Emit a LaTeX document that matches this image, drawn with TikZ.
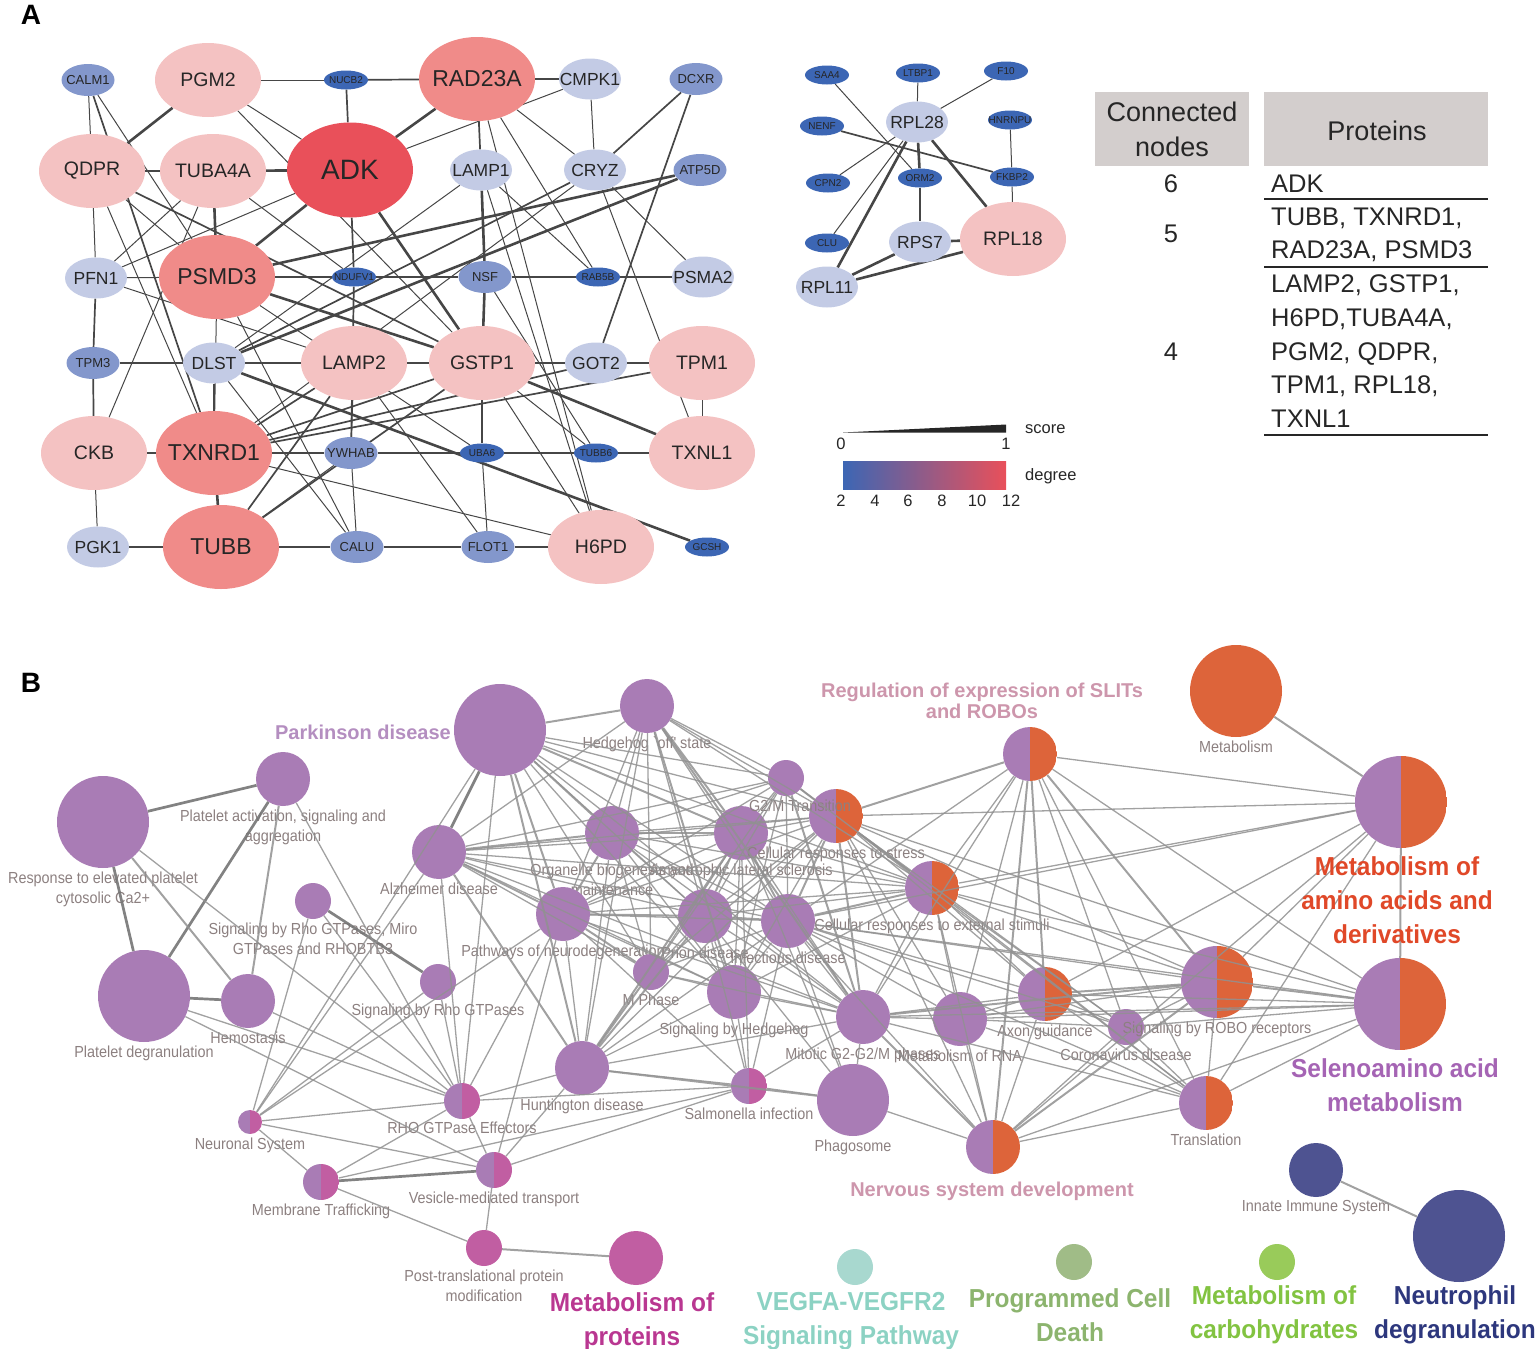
\documentclass[tikz,border=0pt]{standalone}
\usepackage{fontspec}
\setmainfont{Liberation Sans}
\newfontfamily\condfont[FakeStretch=0.9]{Liberation Sans}
\newfontfamily\capfont[FakeStretch=0.94]{Liberation Sans}
\usetikzlibrary{shapes.geometric, backgrounds}

% degree colours (panel A)
\definecolor{degtwo}{RGB}{60,102,180}
\definecolor{degthree}{RGB}{131,151,204}
\definecolor{degfour}{RGB}{195,203,229}
\definecolor{degsix}{RGB}{244,194,194}
\definecolor{degnine}{RGB}{240,139,137}
\definecolor{degtwelve}{RGB}{233,80,90}
\definecolor{degmid}{RGB}{180,92,152}
\definecolor{linkgray}{RGB}{70,70,70}
\definecolor{hdrgray}{RGB}{211,206,205}
% pathway colours (panel B)
\definecolor{purp}{RGB}{169,124,181}
\definecolor{orng}{RGB}{221,100,58}
\definecolor{mgnt}{RGB}{193,94,162}
\definecolor{teal}{RGB}{168,216,207}
\definecolor{sage}{RGB}{160,188,135}
\definecolor{lime}{RGB}{153,203,90}
\definecolor{navy}{RGB}{78,83,145}
\definecolor{edgegray}{RGB}{145,145,145}
\definecolor{labgray}{RGB}{140,128,128}
\definecolor{txtpark}{RGB}{180,142,192}
\definecolor{txtslit}{RGB}{205,150,172}
\definecolor{txtamino}{RGB}{224,72,40}
\definecolor{txtseleno}{RGB}{165,100,180}
\definecolor{txtprot}{RGB}{185,55,145}
\definecolor{txtvegf}{RGB}{140,210,195}
\definecolor{txtpcd}{RGB}{140,180,110}
\definecolor{txtcarb}{RGB}{130,195,65}
\definecolor{txtneut}{RGB}{45,55,125}

\newcommand{\prot}[4]{\node[#1] (#2) at (#3) {\makebox[0pt]{#4}};}

\tikzset{
  prot/.style={ellipse, inner sep=0pt, draw=none, text=black!85},
  protxs/.style={prot, fill=degtwo, minimum width=44pt, minimum height=19pt, font=\fontsize{10}{10}\selectfont},
  protsm/.style={prot, fill=degthree, minimum width=53pt, minimum height=32pt, font=\fontsize{13}{13}\selectfont},
  protmd/.style={prot, fill=degfour, minimum width=62pt, minimum height=41pt, font=\fontsize{17.5}{17.5}\selectfont},
  protlg/.style={prot, fill=degsix, minimum width=106pt, minimum height=74pt, font=\fontsize{19.5}{19.5}\selectfont},
  protxl/.style={prot, fill=degnine, minimum width=116pt, minimum height=84pt, font=\fontsize{23}{23}\selectfont},
  prothub/.style={prot, fill=degtwelve, minimum width=126pt, minimum height=95pt, font=\fontsize{28}{28}\selectfont},
  ethin/.style={draw=linkgray, line width=1pt},
  emid/.style={draw=linkgray, line width=1.7pt},
  ethick/.style={draw=linkgray, line width=2.6pt},
  lgtxt/.style={font=\fontsize{16.5}{16.5}\selectfont, inner sep=0pt, text=black!85},
  tabtxt/.style={font=\fontsize{25.5}{25.5}\selectfont, inner sep=0pt, text=black!85},
  pathway/.style={circle, inner sep=0pt, draw=none},
  bisect/.style 2 args={pathway, path picture={
      \fill[#1] (path picture bounding box.south west) rectangle (path picture bounding box.north);
      \fill[#2] (path picture bounding box.south) rectangle (path picture bounding box.north east);}},
  rA/.style={minimum size=92pt},
  rB/.style={minimum size=72pt},
  rC/.style={minimum size=54pt},
  rD/.style={minimum size=36pt},
  rE/.style={minimum size=24pt},
  blab/.style={font=\condfont\fontsize{16}{20}\selectfont, text=labgray, align=center, inner sep=1pt},
  rel/.style={draw=edgegray, line width=1.3pt, draw opacity=0.85},
  relm/.style={draw=edgegray, line width=2pt, draw opacity=0.85},
  relk/.style={draw=edgegray!80!black, line width=2.7pt, draw opacity=0.9},
  pinkcap/.style={font=\bfseries\fontsize{20}{21}\selectfont, align=center, inner sep=0pt},
  bigcap/.style={font=\capfont\bfseries\fontsize{26}{34}\selectfont, align=center, inner sep=0pt},
}

\begin{document}
\begin{tikzpicture}[x=1pt, y=-1pt, label distance=2pt]
\useasboundingbox (0,0) rectangle (1535,1349);

%%% Panel letters
\node[font=\bfseries\fontsize{28}{28}\selectfont] (letA) at (31,15) {A};
\node[font=\bfseries\fontsize{28}{28}\selectfont] (letB) at (31,683) {B};

%%% Panel A: main PPI network
\prot{protsm}{CALM1}{88,80}{CALM1}
\prot{protlg}{PGM2}{208,80}{PGM2}
\prot{protxs}{NUCB2}{346,80}{NUCB2}
\prot{protxl}{RAD23A}{477,79}{RAD23A}
\prot{protmd}{CMPK1}{590,79}{CMPK1}
\prot{protsm}{DCXR}{696,79}{DCXR}
\prot{protlg}{QDPR}{92,171}{QDPR}
\prot{protlg}{TUBA4A}{213,171}{TUBA4A}
\prot{prothub}{ADK}{350,170}{ADK}
\prot{protmd}{LAMP1}{481,170}{LAMP1}
\prot{protmd}{CRYZ}{595,170}{CRYZ}
\prot{protsm}{ATP5D}{700,170}{ATP5D}
\prot{protmd}{PFN1}{96,278}{PFN1}
\prot{protxl}{PSMD3}{217,277}{PSMD3}
\prot{protxs}{NDUFV1}{354,277}{NDUFV1}
\prot{protsm}{NSF}{485,277}{NSF}
\prot{protxs}{RAB5B}{598,277}{RAB5B}
\prot{protmd}{PSMA2}{703,277}{PSMA2}
\prot{protsm}{TPM3}{93,363}{TPM3}
\prot{protmd}{DLST}{214,363}{DLST}
\prot{protlg}{LAMP2}{354,363}{LAMP2}
\prot{protlg}{GSTP1}{482,363}{GSTP1}
\prot{protmd}{GOT2}{596,363}{GOT2}
\prot{protlg}{TPM1}{702,363}{TPM1}
\prot{protlg}{CKB}{94,453}{CKB}
\prot{protxl}{TXNRD1}{214,453}{TXNRD1}
\prot{protsm}{YWHAB}{351,453}{YWHAB}
\prot{protxs}{UBA6}{482,453}{UBA6}
\prot{protxs}{TUBB6}{596,453}{TUBB6}
\prot{protlg}{TXNL1}{702,453}{TXNL1}
\prot{protmd}{PGK1}{98,547}{PGK1}
\prot{protxl}{TUBB}{221,547}{TUBB}
\prot{protsm}{CALU}{357,547}{CALU}
\prot{protsm}{FLOT1}{488,547}{FLOT1}
\prot{protlg}{H6PD}{601,547}{H6PD}
\prot{protxs}{GCSH}{707,547}{GCSH}

%%% Panel A: small network
\prot{protxs}{SAA4}{827,75}{SAA4}
\prot{protxs}{LTBP1}{918,73}{LTBP1}
\prot{protxs}{F10}{1006,71}{F10}
\prot{protxs}{NENF}{822,126}{NENF}
\prot{protxs}{HNRNPU}{1010,120}{HNRNPU}
\prot{protxs}{CPN2}{828,183}{CPN2}
\prot{protxs}{ORM2}{920,178}{ORM2}
\prot{protxs}{FKBP2}{1012,177}{FKBP2}
\prot{protxs}{CLU}{827,243}{CLU}
\prot{protmd}{RPL28}{917,122}{RPL28}
\prot{protmd}{RPS7}{920,242}{RPS7}
\prot{protlg}{RPL18}{1013,239}{RPL18}
\prot{protmd}{RPL11}{827,287}{RPL11}

\begin{scope}[on background layer]
\foreach \a/\b in {QDPR/PGM2, QDPR/TUBA4A, TUBA4A/ADK, ADK/RAD23A, ADK/PSMD3, TUBA4A/PSMD3,
    PSMD3/NDUFV1, NDUFV1/NSF, NSF/RAB5B, RAB5B/PSMA2, TPM3/DLST, DLST/LAMP2, LAMP2/GSTP1,
    GSTP1/GOT2, GOT2/TPM1, CKB/TXNRD1, TXNRD1/TUBB, DLST/TXNRD1, ADK/GSTP1, ATP5D/DLST,
    ATP5D/PSMD3, PSMD3/GSTP1, GSTP1/TXNL1, DLST/GCSH, LAMP1/NSF, NSF/GSTP1, GSTP1/UBA6,
    RPL28/ORM2, ORM2/RPS7, RPL28/RPL18, RPL28/RPL11, RPS7/RPL18, RPS7/RPL11, RPL11/RPL18}
  \draw[ethick] (\a) -- (\b);
\foreach \a/\b in {NUCB2/RAD23A, NUCB2/ADK, RAD23A/CMPK1, RAD23A/LAMP1, DCXR/CRYZ, DCXR/GOT2,
    QDPR/GSTP1, PFN1/TPM3, TPM3/CKB, NDUFV1/YWHAB, TXNRD1/YWHAB, YWHAB/UBA6, UBA6/TUBB6,
    TUBB6/TXNL1, PGK1/TUBB, TUBB/CALU, CALU/FLOT1, FLOT1/H6PD, TXNRD1/GOT2, TXNRD1/TPM1,
    TXNRD1/GSTP1, TUBB/LAMP2, ADK/NDUFV1, CRYZ/DLST, LAMP2/TXNRD1, CALM1/TXNRD1, TUBB/GSTP1,
    NENF/FKBP2}
  \draw[emid] (\a) -- (\b);
\foreach \a/\b in {CALM1/QDPR, CALM1/PSMD3, PGM2/NUCB2, PGM2/ADK, PGM2/GSTP1, RAD23A/CRYZ,
    RAD23A/RAB5B, RAD23A/H6PD, CMPK1/CRYZ, CMPK1/ADK, QDPR/PFN1, QDPR/TXNRD1, QDPR/PSMD3,
    TUBA4A/PFN1, TUBA4A/NDUFV1, TUBA4A/CKB, ADK/PFN1, LAMP1/DLST, LAMP1/RAB5B, LAMP1/H6PD,
    CRYZ/TXNRD1, CRYZ/PSMA2, CRYZ/TXNL1, PFN1/PSMD3, PFN1/LAMP2, PSMD3/CALU, PSMD3/UBA6,
    PSMD3/TXNRD1, LAMP2/YWHAB, LAMP2/FLOT1, GSTP1/TUBB6, GSTP1/H6PD, GSTP1/TPM1, TPM1/TXNL1,
    CKB/PGK1, UBA6/FLOT1, YWHAB/CALU, YWHAB/TUBB, TXNRD1/H6PD, DLST/CALU, NSF/TUBB6,
    SAA4/ORM2, LTBP1/RPL28, F10/RPL28, HNRNPU/FKBP2, CPN2/RPL28, CLU/RPL28, FKBP2/RPL18}
  \draw[ethin] (\a) -- (\b);
\end{scope}

%%% Panel A: legend
\fill[black!85] (843,432.5) -- (1006,424.5) -- (1006,432.5) -- cycle;
\node[lgtxt, anchor=west] (scorelbl) at (1025,429) {score};
\node[lgtxt] (scorelo) at (841,444) {0};
\node[lgtxt] (scorehi) at (1006,444) {1};
\shade[left color=degtwo, middle color=degmid, right color=degtwelve] (843,461) rectangle (1006,489);
\node[lgtxt, anchor=west] (deglbl) at (1025,476) {degree};
\foreach \v/\x in {2/841, 4/875, 6/908, 8/942, 10/977, 12/1011}
  \node[lgtxt] at (\x,501) {\v};

%%% Panel A: table
\fill[hdrgray] (1095,92) rectangle (1249,166);
\fill[hdrgray] (1264,92) rectangle (1488,166);
\node[font=\fontsize{27}{35}\selectfont, align=center, inner sep=0pt, text=black!85] (hconn) at (1172,129) {Connected\\nodes};
\node[font=\fontsize{27}{27}\selectfont, inner sep=0pt, text=black!85] (hprot) at (1377,131) {Proteins};
\node[tabtxt, anchor=base] at (1171,192) {6};
\node[tabtxt, anchor=base] at (1171,242) {5};
\node[tabtxt, anchor=base] at (1171,360) {4};
\foreach \t/\y in {ADK/192, {TUBB, TXNRD1,}/225, {RAD23A, PSMD3}/258, {LAMP2, GSTP1,}/292,
    {H6PD,TUBA4A,}/326, {PGM2, QDPR,}/360, {TPM1, RPL18,}/393, TXNL1/427}
  \node[tabtxt, anchor=base west] at (1271,\y) {\t};
\foreach \y in {199, 267, 435}
  \draw[line width=1.6pt, black!85] (1264,\y) -- (1488,\y);

%%% Panel B: pathways
\node[pathway, rA, fill=purp, label={[blab]below:{Response to elevated platelet\\cytosolic Ca2+}}] (resp) at (103,822) {};
\node[pathway, rC, fill=purp, label={[blab]below:{Platelet activation, signaling and\\aggregation}}] (plact) at (283,779) {};
\node[pathway, rD, fill=purp, label={[blab]below:{Signaling by Rho GTPases, Miro\\GTPases and RHOBTB3}}] (rhomiro) at (313,901) {};
\node[pathway, rA, fill=purp, label={[blab]below:Platelet degranulation}] (pdegr) at (144,996) {};
\node[pathway, rC, fill=purp, label={[blab]below:Hemostasis}] (hemo) at (248,1001) {};
\node[pathway, rD, fill=purp, label={[blab]below:Signaling by Rho GTPases}] (rhogtp) at (438,982) {};
\node[pathway, rC, fill=purp, label={[blab]below:Alzheimer disease}] (alz) at (439,852) {};
\node[pathway, rA, fill=purp] (park) at (500,730) {};
\node[pathway, rC, fill=purp, label={[blab]below:Hedgehog `off' state}] (hedge) at (647,706) {};
\node[pathway, rC, fill=purp, label={[blab]below:{Organelle biogenesis and\\maintenance}}] (organ) at (612,833) {};
\node[pathway, rC, fill=purp, label={[blab]below:Amyotrophic lateral sclerosis}] (als) at (741,833) {};
\node[bisect={purp}{orng}, rC, label={[blab]below:Cellular responses to stress}] (cstress) at (836,816) {};
\node[bisect={purp}{orng}, rC, label={[blab]below:Cellular responses to external stimuli}] (cext) at (932,888) {};
\node[bisect={purp}{orng}, rC] (slit) at (1030,754) {};
\node[pathway, rA, fill=orng, label={[blab]below:Metabolism}] (metab) at (1236,691) {};
\node[bisect={purp}{orng}, rA] (aminoacid) at (1401,802) {};
\node[pathway, rC, fill=purp, label={[blab]below:Pathways of neurodegeneration}] (neuro) at (563,914) {};
\node[pathway, rC, fill=purp, label={[blab]below:Prion disease}] (prion) at (705,916) {};
\node[pathway, rC, fill=purp, label={[blab]below:Infectious disease}] (infect) at (788,921) {};
\node[pathway, rD, fill=purp, label={[blab]below:M Phase}] (mphase) at (651,972) {};
\node[pathway, rC, fill=purp, label={[blab]below:Signaling by Hedgehog}] (shedge) at (734,992) {};
\node[pathway, rC, fill=purp, label={[blab]below:Mitotic G2-G2/M phases}] (mitotic) at (863,1017) {};
\node[pathway, rC, fill=purp, label={[blab]below:Metabolism of RNA}] (rna) at (960,1019) {};
\node[bisect={purp}{orng}, rC, label={[blab]below:Axon guidance}] (axon) at (1045,994) {};
\node[pathway, rD, fill=purp, label={[blab]below:Coronavirus disease}] (corona) at (1126,1027) {};
\node[bisect={purp}{orng}, rB, label={[blab]below:Signaling by ROBO receptors}] (robo) at (1217,982) {};
\node[bisect={purp}{orng}, rA] (seleno) at (1400,1004) {};
\node[bisect={purp}{orng}, rC, label={[blab]below:Translation}] (transl) at (1206,1103) {};
\node[bisect={purp}{orng}, rC] (nervous) at (993,1147) {};
\node[pathway, rB, fill=purp, label={[blab]below:Phagosome}] (phago) at (853,1100) {};
\node[pathway, rC, fill=purp, label={[blab]below:Huntington disease}] (hunt) at (582,1068) {};
\node[bisect={purp}{mgnt}, rD, label={[blab]below:Salmonella infection}] (salm) at (749,1086) {};
\node[bisect={purp}{mgnt}, rD, label={[blab]below:RHO GTPase Effectors}] (rhoeff) at (462,1101) {};
\node[bisect={purp}{mgnt}, rE, label={[blab]below:Neuronal System}] (neuronal) at (250,1122) {};
\node[bisect={purp}{mgnt}, rD, label={[blab]below:Membrane Trafficking}] (membr) at (321,1182) {};
\node[bisect={purp}{mgnt}, rD, label={[blab]below:Vesicle-mediated transport}] (vesic) at (494,1170) {};
\node[pathway, rD, fill=mgnt, label={[blab]below:{Post-translational protein\\modification}}] (ptm) at (484,1248) {};
\node[pathway, rC, fill=mgnt] (protmet) at (636,1258) {};
\node[pathway, rD, fill=teal] (vegfa) at (855,1267) {};
\node[pathway, rD, fill=sage] (pcd) at (1074,1262) {};
\node[pathway, rD, fill=lime] (carb) at (1277,1262) {};
\node[pathway, rC, fill=navy, label={[blab]below:Innate Immune System}] (innate) at (1316,1170) {};
\node[pathway, rA, fill=navy] (neutro) at (1459,1236) {};
% set last, so that its label lies over the stress node
\node[pathway, rD, fill=purp, label={[blab, xshift=14pt]below:G2/M Transition}] (gtwom) at (786,778) {};

%%% Panel B: links
\foreach \a/\b in {resp/plact, resp/pdegr, plact/pdegr, pdegr/hemo, rhomiro/rhogtp, membr/vesic, alz/park}
  \draw[relk] (\a) -- (\b);
\foreach \a/\b in {resp/hemo, plact/hemo, park/hedge, park/organ, park/als, park/neuro, park/hunt,
    hedge/als, hedge/shedge, hedge/mitotic, gtwom/cstress, gtwom/mitotic, alz/organ, alz/neuro,
    alz/hunt, organ/als, organ/neuro, neuro/prion, neuro/mphase, als/infect, als/prion, als/hunt,
    prion/infect, prion/hunt, mphase/hunt, infect/cext, infect/cstress, cstress/cext, cstress/mitotic,
    cstress/slit, mitotic/robo, slit/axon, slit/nervous, slit/robo, aminoacid/seleno, aminoacid/metab,
    seleno/robo, axon/robo, robo/nervous, nervous/mitotic, ptm/protmet, innate/neutro, hunt/phago}
  \draw[relm] (\a) -- (\b);
\foreach \a/\b in {resp/rhoeff, plact/rhoeff, pdegr/rhoeff, hemo/rhoeff, pdegr/vesic, rhomiro/neuronal,
    rhomiro/rhoeff, alz/neuronal, alz/rhoeff, alz/als, alz/prion, alz/infect, alz/mphase, alz/shedge,
    alz/mitotic, alz/cstress, alz/cext, alz/gtwom, alz/hedge,
    park/prion, park/infect, park/mphase, park/shedge, park/gtwom, park/cstress, park/mitotic,
    park/rhoeff, park/neuronal, park/cext,
    hedge/organ, hedge/neuro, hedge/prion, hedge/infect, hedge/mphase, hedge/gtwom, hedge/cstress,
    hedge/cext, hedge/hunt,
    gtwom/organ, gtwom/als, gtwom/neuro, gtwom/prion, gtwom/infect, gtwom/mphase, gtwom/shedge, gtwom/cext,
    organ/prion, organ/infect, organ/mphase, organ/shedge, organ/mitotic, organ/hunt, organ/cstress, organ/cext,
    als/neuro, als/mphase, als/shedge, als/mitotic, als/cstress, als/cext, als/salm, als/phago,
    neuro/infect, neuro/shedge, neuro/mitotic, neuro/hunt, neuro/cstress, neuro/cext, neuro/neuronal,
    neuro/rhoeff, neuro/vesic, neuro/salm,
    prion/mphase, prion/shedge, prion/mitotic, prion/cstress, prion/cext, prion/phago, prion/salm,
    infect/mphase, infect/shedge, infect/mitotic, infect/hunt, infect/rna, infect/axon, infect/robo,
    infect/seleno, infect/aminoacid, infect/nervous, infect/transl, infect/corona, infect/phago,
    infect/salm, infect/slit,
    mphase/shedge, mphase/mitotic, mphase/cstress,
    shedge/mitotic, shedge/hunt, shedge/cstress, shedge/cext, shedge/salm,
    mitotic/hunt, mitotic/cext, mitotic/rna, mitotic/axon, mitotic/seleno, mitotic/transl,
    mitotic/phago, mitotic/slit, mitotic/salm,
    hunt/salm, hunt/rhoeff, hunt/vesic, hunt/cstress,
    cstress/rna, cstress/axon, cstress/robo, cstress/seleno, cstress/aminoacid, cstress/transl,
    cstress/nervous, cstress/corona,
    cext/slit, cext/rna, cext/axon, cext/robo, cext/seleno, cext/aminoacid, cext/transl,
    cext/nervous, cext/corona,
    slit/rna, slit/seleno, slit/aminoacid, slit/transl, slit/corona,
    rna/axon, rna/robo, rna/seleno, rna/transl, rna/nervous, rna/corona,
    axon/seleno, axon/aminoacid, axon/transl, axon/nervous, axon/corona,
    robo/aminoacid, robo/transl, robo/corona,
    corona/transl, corona/nervous, corona/seleno,
    seleno/transl, seleno/nervous, aminoacid/transl, aminoacid/nervous, transl/nervous,
    phago/salm, phago/nervous, salm/rhoeff, salm/vesic, salm/membr,
    rhoeff/neuronal, rhoeff/vesic, rhoeff/membr, rhoeff/rhogtp,
    neuronal/membr, neuronal/vesic, neuronal/rhogtp, membr/ptm, vesic/ptm}
  \draw[rel] (\a) -- (\b);

%%% Panel B: cluster captions
\node[pinkcap, text=txtpark, anchor=east] (cpark) at (451,732) {Parkinson disease};
\node[pinkcap, text=txtslit] (cslit) at (982,701) {Regulation of expression of SLITs\\and ROBOs};
\node[pinkcap, text=txtslit] (cnerv) at (992,1191) {Nervous system development};
\node[bigcap, text=txtamino] (camino) at (1397,900) {Metabolism of\\amino acids and\\derivatives};
\node[bigcap, text=txtseleno] (cselen) at (1395,1085) {Selenoamino acid\\metabolism};
\node[bigcap, text=txtprot] (cprot) at (632,1322) {Metabolism of\\proteins};
\node[bigcap, text=txtvegf] (cvegf) at (851,1321) {VEGFA-VEGFR2\\Signaling Pathway};
\node[bigcap, text=txtpcd] (cpcd) at (1070,1315) {Programmed Cell\\Death};
\node[bigcap, text=txtcarb] (ccarb) at (1274,1315) {Metabolism of\\carbohydrates};
\node[bigcap, text=txtneut] (cneut) at (1455,1315) {Neutrophil\\degranulation};
\end{tikzpicture}
\end{document}
